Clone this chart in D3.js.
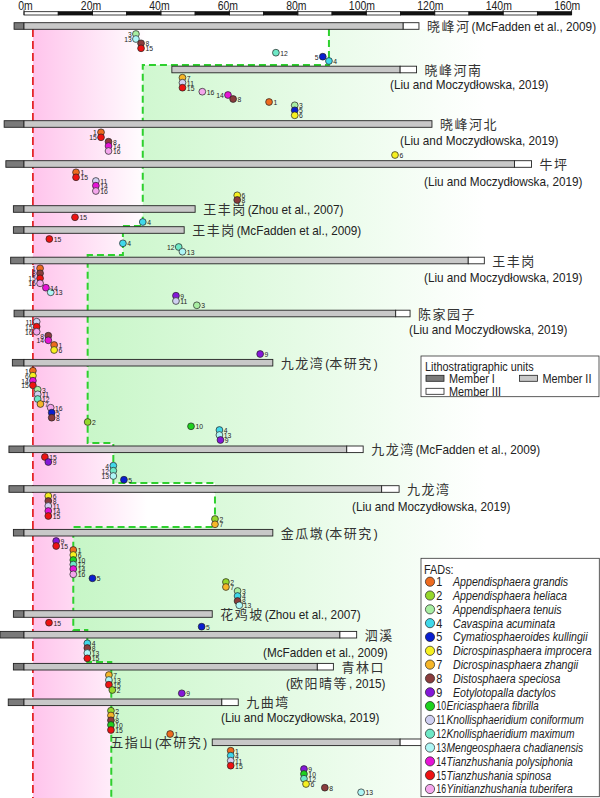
<!DOCTYPE html>
<html>
<head>
<meta charset="utf-8">
<script src="https://cdn.jsdelivr.net/npm/d3@7"></script>
<style>
  body { margin: 0; background: #fff; }
  svg text { font-family: "Liberation Sans", Arial, sans-serif; fill: #222; }
  svg text.cjk { font-family: "Noto Sans CJK SC", "Noto Sans", sans-serif; fill: #333; }
</style>
</head>
<body>
<svg id="chart" width="600" height="798"></svg>
<script>
// FAD taxa (legend order)
const fadNames = [
  "Appendisphaera grandis", "Appendisphaera heliaca", "Appendisphaera tenuis",
  "Cavaspina acuminata", "Cymatiosphaeroides kullingii", "Dicrospinasphaera improcera",
  "Dicrospinasphaera zhangii", "Distosphaera speciosa", "Eotylotopalla dactylos",
  "Ericiasphaera fibrilla", "Knollisphaeridium coniformum", "Knollisphaeridium maximum",
  "Mengeosphaera chadianensis", "Tianzhushania polysiphonia", "Tianzhushania spinosa",
  "Yinitianzhushania tuberifera"
];
const fadColors = [
  "#ee6a1e", "#96d82c", "#a8eea2", "#40d8ea", "#0a1ed0", "#f6f020", "#f6b628", "#8a3c3c",
  "#8418d8", "#1ed21e", "#d0d0f2", "#6ee8c6", "#aef6f6", "#e614d6", "#ee1212", "#f4a6ec"
];

// scale bar (metres)
const scaleTicks = [0, 20, 40, 60, 80, 100, 120, 140, 160];

// sections
const sectionNames = ["晓峰河", "晓峰河南", "晓峰河北", "牛坪", "王丰岗", "王丰岗", "王丰岗", "陈家园子",
  "九龙湾", "九龙湾", "九龙湾", "金瓜墩", "花鸡坡", "泗溪", "青林口", "九曲塆", "五指山"];
const sectionSources = ["(McFadden et al., 2009)", "(Liu and Moczydłowska, 2019)", "(Liu and Moczydłowska, 2019)",
  "(Liu and Moczydłowska, 2019)", "(Zhou et al., 2007)", "(McFadden et al., 2009)", "(Liu and Moczydłowska, 2019)",
  "(Liu and Moczydłowska, 2019)", "(本研究)", "(McFadden et al., 2009)", "(Liu and Moczydłowska, 2019)",
  "(本研究)", "(Zhou et al., 2007)", "(McFadden et al., 2009)", "(欧阳晴等, 2015)",
  "(Liu and Moczydłowska, 2019)", "(本研究)"];
// vertical level of each column in the figure
const sectionLevel = [26, 69.5, 124, 164, 209, 230, 260.5, 313.5, 362.7, 449.3, 489, 532.7, 614, 634.7, 666.7, 702.3, 742.3];
// column base, top of Member II, top of Member III (metres)
const columnBase = [-2.9, 43.2, -5.8, -5.3, -3.1, -3.1, -3.9, -2.9, -3.4, -4.4, -4.4, -3.1, -3.1, -7, -3.1, -4.6, 55];
const memberIITop = [110.8, 109.9, 119.2, 143.3, 50, 46.8, 129.8, 108.6, 72.7, 94.3, 104.5, 72.7, 55, 92.3, 85.7, 57.8, 109.9];
const memberIIITop = [115.4, 114.7, 119.2, 148.3, 50, 46.8, 134.5, 112.8, 72.7, 99.1, 109.6, 72.7, 55, 97.2, 90.4, 62.6, 117];

// FAD records: [section, taxon, metres, level]
const fadRecords = [
  [0, 3, 32.7, 34], [0, 13, 32.7, 39], [0, 8, 34.2, 43.3], [0, 15, 34.2, 48.3], [0, 12, 73.6, 52.7], [0, 5, 87.3, 56.7], [0, 4, 89.1, 61],
  [1, 7, 46.3, 77.7], [1, 11, 46.3, 82.7], [1, 15, 46.3, 87.7], [1, 16, 52.1, 91.7], [1, 14, 59.6, 95], [1, 8, 61.1, 99], [1, 1, 71.6, 102],
  [1, 3, 79.1, 105.3], [1, 5, 79.1, 110.3], [1, 6, 79.1, 115.3],
  [2, 1, 22.5, 132.3], [2, 15, 22.5, 137.3], [2, 8, 24.7, 141.7], [2, 14, 24.7, 146], [2, 16, 24.7, 151], [2, 6, 108.4, 155],
  [3, 1, 15.2, 172.3], [3, 15, 15.2, 177.3], [3, 11, 21, 181], [3, 14, 21, 185.7], [3, 16, 21, 191], [3, 6, 62.3, 195.3], [3, 8, 62.3, 200],
  [4, 15, 14.9, 217.3], [4, 4, 34.7, 222],
  [5, 15, 7.4, 239], [5, 4, 28.9, 243.3], [5, 12, 45.2, 247], [5, 13, 46.3, 251.7],
  [6, 1, 4.7, 268.3], [6, 8, 4.7, 273.3], [6, 15, 4.7, 278.3], [6, 16, 4.7, 283.3], [6, 14, 6.4, 287.7], [6, 13, 7.8, 292.3],
  [6, 9, 44.4, 295.7], [6, 11, 44.4, 301], [6, 3, 50.5, 305.3],
  [7, 11, 3.7, 321.7], [7, 15, 3.7, 326.7], [7, 16, 3.7, 331.7], [7, 8, 7.1, 335.7], [7, 14, 7.1, 340.3], [7, 1, 8.8, 345], [7, 6, 8.8, 350], [7, 9, 69, 354],
  [8, 1, 2.6, 370.7], [8, 6, 2.6, 375.7], [8, 14, 2.6, 380.7], [8, 15, 2.6, 385.3], [8, 3, 4, 389.7], [8, 11, 4, 394.3], [8, 12, 4, 399],
  [8, 7, 4.8, 404], [8, 16, 7.8, 407.7], [8, 5, 8.1, 412.7], [8, 8, 8.1, 417.7], [8, 2, 18.6, 422], [8, 10, 48.8, 426.3],
  [8, 4, 57.1, 430], [8, 13, 57.1, 435], [8, 9, 57.4, 440],
  [9, 15, 6.1, 457], [9, 9, 7.1, 462], [9, 4, 26.1, 465.7], [9, 12, 26.1, 470.7], [9, 13, 26.1, 476], [9, 5, 29.2, 479.7],
  [10, 6, 7.1, 496], [10, 8, 7.1, 501], [10, 11, 7.1, 506], [10, 14, 7.1, 511], [10, 15, 7.1, 516], [10, 2, 55.8, 519], [10, 7, 55.8, 524.3],
  [11, 9, 9.4, 541], [11, 15, 9.4, 546], [11, 1, 14.4, 550], [11, 6, 14.4, 555], [11, 10, 14.4, 560], [11, 12, 14.4, 564.5], [11, 14, 14.4, 569],
  [11, 16, 14.4, 574.3], [11, 5, 20, 578.3], [11, 2, 59, 582], [11, 7, 59, 587], [11, 3, 62.4, 591], [11, 4, 62.4, 596], [11, 8, 62.4, 601], [11, 13, 62.9, 605.3],
  [12, 15, 7.3, 622.7], [12, 5, 51.9, 626.7],
  [13, 4, 18.5, 643.3], [13, 8, 18.5, 648], [13, 13, 18.5, 653], [13, 15, 18.5, 658.3],
  [14, 7, 24.8, 675], [14, 13, 24.8, 680], [14, 15, 24.8, 684.7], [14, 2, 25.8, 690], [14, 9, 46.1, 693.3],
  [15, 2, 25.4, 710.7], [15, 7, 25.4, 715.5], [15, 8, 25.4, 720.3], [15, 10, 25.4, 725], [15, 15, 25.4, 730], [15, 1, 42.7, 734],
  [16, 1, 60.4, 750.7], [16, 4, 60.4, 755.7], [16, 11, 60.4, 760.7], [16, 15, 60.4, 765.7], [16, 9, 81.8, 769], [16, 10, 81.8, 774],
  [16, 12, 81.8, 778.7], [16, 6, 82.4, 784], [16, 8, 87.9, 787.7], [16, 13, 98.5, 792.3]
];
// records whose number sits on the left of the dot
const leftLabelled = new Set(["0-3", "0-13", "0-5", "1-14", "2-1", "2-15", "5-12", "6-1", "6-8", "6-15", "6-16",
  "7-11", "7-15", "7-16", "7-8", "7-14", "8-1", "8-6", "8-14", "8-15", "9-4", "9-12", "9-13"]);

// red line (lower boundary) and green dashed correlation line: [metres, level]
const redLineMetres = 2.6;
const greenBoundary = [[89.1, 29], [89.1, 65], [34.7, 65], [34.7, 226], [28.9, 226], [28.9, 255], [18.6, 255],
  [18.6, 443], [26.1, 443], [26.1, 483], [55.8, 483], [55.8, 527], [14.4, 527], [14.4, 630], [18.5, 630],
  [18.5, 662], [25.5, 662], [25.5, 798]];
const shadeTop = 29, shadeBottom = 798;

// label layout: 'inline', 'two' (source on second line) or 'left'
const labelMode = ["inline", "two", "two", "two", "inline", "inline", "two", "two", "inline", "inline", "two",
  "inline", "inline", "two", "two", "two", "left"];
const sourceStart = {1: 390, 2: 400, 3: 424, 6: 424, 7: 409, 10: 352, 13: 263, 14: 286, 15: 221};
const sourceDrop = {1: 14, 2: 15.5, 3: 17, 6: 16.2, 7: 15.5, 10: 16.7, 13: 17, 14: 16.6, 15: 14.4};

const SQ = 0.87; // horizontal squeeze to mimic a narrow face
const svg = d3.select("#chart");
const x = d3.scaleLinear().domain([0, 160]).range([24, 571.6]);
const y = d3.scaleLinear().domain([0, 798]).range([0, 798]);

// latin text drawn narrow
function narrow(parent, px, py, str, size, anchor, sq) {
  const t = parent.append("text")
    .attr("transform", `translate(${px},${py}) scale(${sq || SQ},1)`)
    .attr("font-size", size).text(str);
  if (anchor) t.attr("text-anchor", anchor);
  return t;
}
// mixed latin / chinese line, laid out piece by piece
function mixed(parent, px, py, str, anchor) {
  const g = parent.append("g");
  let cx = 0;
  str.split(/([\u4e00-\u9fff]+)/).filter(s => s.length).forEach(s => {
    if (/[\u4e00-\u9fff]/.test(s)) {
      const t = g.append("text").attr("class", "cjk").attr("x", cx).attr("y", 0)
        .attr("font-size", 13).attr("letter-spacing", 1.5).text(s);
      cx += t.node().getComputedTextLength() + 1;
    } else {
      const t = narrow(g, cx, 0, s, 13.5);
      cx += t.node().getComputedTextLength() * SQ;
    }
  });
  const dx = anchor === "end" ? px - cx : px;
  g.attr("transform", `translate(${dx},${py})`);
  return g;
}

// gradients
const defs = svg.append("defs");
function grad(id, x1, x2, c) {
  const g = defs.append("linearGradient").attr("id", id).attr("gradientUnits", "userSpaceOnUse")
    .attr("x1", x1).attr("x2", x2).attr("y1", 0).attr("y2", 0);
  g.append("stop").attr("offset", 0).attr("stop-color", c);
  g.append("stop").attr("offset", 1).attr("stop-color", "#ffffff");
}
grad("pinkFade", x(redLineMetres), x(36), "#ffc4ec");
grad("greenFade", x(13), x(135), "#c6f6c6");

const line = d3.line().x(d => x(d[0])).y(d => y(d[1]));
svg.append("path")
  .attr("d", line([[redLineMetres, shadeTop], ...greenBoundary, [redLineMetres, shadeBottom]]) + "Z")
  .attr("fill", "url(#pinkFade)");
svg.append("path")
  .attr("d", line([...greenBoundary, [170, shadeBottom], [170, shadeTop]]) + "Z")
  .attr("fill", "url(#greenFade)");

svg.append("line")
  .attr("x1", x(redLineMetres)).attr("x2", x(redLineMetres))
  .attr("y1", y(shadeTop)).attr("y2", y(shadeBottom))
  .attr("stroke", "#e4262a").attr("stroke-width", 1.8).attr("stroke-dasharray", "8,4");
svg.append("path")
  .attr("d", line(greenBoundary))
  .attr("fill", "none").attr("stroke", "#2ed02e").attr("stroke-width", 2).attr("stroke-dasharray", "7,4");

// scale bar
const sb = svg.append("g");
d3.range(0, 160, 10).forEach(m => {
  sb.append("rect").attr("x", x(m)).attr("y", 11.7).attr("width", x(m + 10) - x(m)).attr("height", 3.3)
    .attr("fill", (m / 10) % 2 ? "#111" : "#fff").attr("stroke", "#111").attr("stroke-width", 0.8);
});
scaleTicks.forEach(m => {
  sb.append("line").attr("x1", x(m)).attr("x2", x(m)).attr("y1", 9.5).attr("y2", 15).attr("stroke", "#111").attr("stroke-width", 0.8);
  narrow(sb, x(m), 9.5, m, 12, "end");
  narrow(sb, x(m), 9.5, "m", 12);
});

// columns
const barH = 6.6;
const cols = svg.append("g");
sectionNames.forEach((name, i) => {
  const cy = y(sectionLevel[i]);
  const base = columnBase[i];
  const seg = (a, b, fill) => cols.append("rect")
    .attr("x", x(a)).attr("y", cy - barH / 2).attr("width", x(b) - x(a)).attr("height", barH)
    .attr("fill", fill).attr("stroke", "#222").attr("stroke-width", 0.9);
  if (base < 0) seg(base, 0, "#7a7a7a");
  seg(Math.max(base, 0), memberIITop[i], "#c8c8c8");
  if (memberIIITop[i] > memberIITop[i]) seg(memberIITop[i], memberIIITop[i], "#ffffff");
});
const labels = svg.append("g");
sectionNames.forEach((name, i) => {
  const cy = y(sectionLevel[i]);
  const endX = x(memberIIITop[i]) + 8;
  const mode = labelMode[i];
  if (mode === "left") {
    mixed(labels, x(columnBase[i]) - 5, cy + 5, name + " " + sectionSources[i], "end");
  } else if (mode === "inline") {
    mixed(labels, endX, cy + 5, name + " " + sectionSources[i]);
  } else {
    mixed(labels, endX, cy + 5, name);
    mixed(labels, sourceStart[i], cy + sourceDrop[i] + 5, sectionSources[i]);
  }
});

// FAD dots
const r = 3.4;
const dots = svg.append("g");
fadRecords.forEach(([s, f, m, lv]) => {
  dots.append("circle").attr("cx", x(m)).attr("cy", y(lv)).attr("r", r)
    .attr("fill", fadColors[f - 1]).attr("stroke", "#222").attr("stroke-width", 0.7);
});
fadRecords.forEach(([s, f, m, lv]) => {
  const left = leftLabelled.has(s + "-" + f);
  narrow(dots, x(m) + (left ? -(r + 0.8) : r + 1), y(lv) + 2.8, f, 7.8, left ? "end" : "start")
    .attr("fill", "#333");
});

// legend: lithostratigraphic units
const lg = svg.append("g");
lg.append("rect").attr("x", 421).attr("y", 356).attr("width", 178).attr("height", 40.7)
  .attr("fill", "#fff").attr("stroke", "#333").attr("stroke-width", 0.8);
narrow(lg, 425, 370.5, "Lithostratigraphic units", 12.5);
const units = [["Member I", "#7a7a7a", 426, 378.3], ["Member II", "#c8c8c8", 519.5, 378.3], ["Member III", "#ffffff", 426, 391.3]];
units.forEach(([t, c, ux, uy]) => {
  lg.append("rect").attr("x", ux).attr("y", uy - 3).attr("width", 18).attr("height", 6)
    .attr("fill", c).attr("stroke", "#222").attr("stroke-width", 0.8);
  narrow(lg, ux + 23, uy + 4.5, t, 12.5);
});

// legend: FADs
const fl = svg.append("g");
fl.append("rect").attr("x", 421).attr("y", 558.3).attr("width", 178.3).attr("height", 238.4)
  .attr("fill", "#fff").attr("stroke", "#333").attr("stroke-width", 0.8);
narrow(fl, 424, 574, "FADs:", 12.5);
fadNames.forEach((n, i) => {
  const cy = 581.7 + i * 13.82;
  fl.append("circle").attr("cx", 430).attr("cy", cy).attr("r", 4.6)
    .attr("fill", fadColors[i]).attr("stroke", "#222").attr("stroke-width", 0.7);
  narrow(fl, 436.3, cy + 4.4, i + 1, 12.5, null, i < 9 ? SQ : 0.7);
  narrow(fl, i < 9 ? 453 : 446.5, cy + 4.4, n, 12.5, null, i < 9 ? 0.85 : 0.82).attr("font-style", "italic");
});
</script>
</body>
</html>
